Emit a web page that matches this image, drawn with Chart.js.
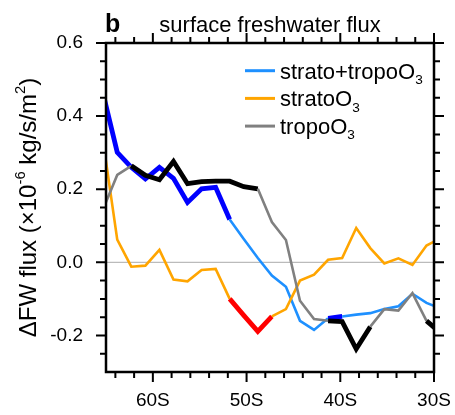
<!DOCTYPE html>
<html>
<head>
<meta charset="utf-8">
<script src="https://cdn.jsdelivr.net/npm/chart.js@4.4.0/dist/chart.umd.min.js"></script>
<style>
  html, body { margin: 0; padding: 0; background: #fff; }
</style>
</head>
<body>
<canvas id="fw-chart" width="455" height="415"></canvas>
<script>
// latitude of each grid point (negative = south)
let lats = [-65.3, -63.8, -62.3, -60.8, -59.3, -57.8, -56.3, -54.8, -53.3, -51.8, -50.3, -48.8, -47.3,
  -45.8, -44.3, -42.8, -41.3, -39.8, -38.3, -36.8, -35.3, -33.8, -32.3, -30.8, -29.3];

let stratoTropo = [0.46, 0.301, 0.26, 0.228, 0.26, 0.23, 0.164, 0.201, 0.205, 0.117, 0.064, 0.012, -0.036,
  -0.067, -0.16, -0.185, -0.153, -0.148, -0.143, -0.139, -0.128, -0.12, -0.086, -0.111, -0.126];
let strato = [0.33, 0.062, -0.012, -0.009, 0.034, -0.047, -0.052, -0.021, -0.018, -0.1, -0.145, -0.189, -0.148,
  -0.128, -0.05, -0.034, 0.007, 0.012, 0.094, 0.039, -0.003, 0.011, -0.007, 0.046, 0.066];
let tropo = [0.146, 0.239, 0.264, 0.238, 0.226, 0.276, 0.215, 0.221, 0.222, 0.222, 0.207, 0.201, 0.11,
  0.061, -0.105, -0.155, -0.16, -0.162, -0.237, -0.176, -0.128, -0.132, -0.084, -0.16, -0.193];

// index ranges drawn as thick (significant) segments
let stratoTropoSig = [[0, 9], [16, 17]];
let stratoSig = [[9, 12]];
let tropoSig = [[2, 11], [16, 19], [23, 24]];

let xTicks = [-60, -50, -40, -30];
let yTicks = [-0.2, 0, 0.2, 0.4, 0.6];

let FONT = "'Liberation Sans', Arial, sans-serif";
Chart.defaults.font.family = FONT;
Chart.defaults.color = "#000";

function inRanges(ranges, ctx) {
  return ranges.some(([a, b]) => ctx.p0DataIndex >= a && ctx.p1DataIndex <= b);
}

function makeSet(values, sig, light, dark) {
  return {
    data: values.map((v, i) => ({ x: lats[i], y: v })),
    borderColor: light,
    borderWidth: 2.6,
    pointRadius: 0,
    clip: 0,
    segment: {
      borderColor: (ctx) => (inRanges(sig, ctx) ? dark : light),
      borderWidth: (ctx) => (inRanges(sig, ctx) ? 4.8 : 2.6),
    },
  };
}

// text with sub/superscripts: parts = [[text, "n"|"sup"|"sub"], ...]
function drawRich(ctx, parts, x, y, size, align) {
  let widths = parts.map(([t, m]) => {
    ctx.font = (m === "n" ? size : size * 0.62) + "px " + FONT;
    return ctx.measureText(t).width;
  });
  let total = widths.reduce((a, b) => a + b, 0);
  let cx = align === "center" ? x - total / 2 : x;
  ctx.textAlign = "left";
  ctx.textBaseline = "alphabetic";
  parts.forEach(([t, m], i) => {
    ctx.font = (m === "n" ? size : size * 0.62) + "px " + FONT;
    let dy = m === "sup" ? -size * 0.42 : m === "sub" ? size * 0.25 : 0;
    ctx.fillText(t, cx, y + dy);
    cx += widths[i];
  });
}

let legendItems = [
  { color: "#1e90ff", parts: [["strato+tropoO", "n"], ["3", "sub"]] },
  { color: "#ffa500", parts: [["stratoO", "n"], ["3", "sub"]] },
  { color: "#808080", parts: [["tropoO", "n"], ["3", "sub"]] },
];

function noPadding(s) {
  s.paddingLeft = 0;
  s.paddingRight = 0;
  s.paddingTop = 0;
  s.paddingBottom = 0;
}

let framePlugin = {
  id: "frame",
  beforeDatasetsDraw(chart) {
    let { ctx, chartArea: a, scales } = chart;
    let y0 = scales.y.getPixelForValue(0);
    ctx.save();
    ctx.strokeStyle = "#bbbbbb";
    ctx.lineWidth = 1.2;
    ctx.beginPath();
    ctx.moveTo(a.left, y0);
    ctx.lineTo(a.right, y0);
    ctx.stroke();
    ctx.restore();
  },
  afterDraw(chart) {
    let { ctx, chartArea: a, scales } = chart;
    ctx.save();
    ctx.strokeStyle = "#000";
    ctx.fillStyle = "#000";

    // ticks on all four sides, pointing outwards
    ctx.lineWidth = 2;
    ctx.beginPath();
    for (let v = -64; v <= -30; v += 2) {
      let len = xTicks.includes(v) ? 10 : 6;
      let px = scales.x.getPixelForValue(v);
      ctx.moveTo(px, a.bottom);
      ctx.lineTo(px, a.bottom + len);
      ctx.moveTo(px, a.top);
      ctx.lineTo(px, a.top - len);
    }
    for (let k = -5; k <= 12; k++) {
      let v = k * 0.05;
      let major = k % 4 === 0;
      let len = major ? 10 : 6;
      let py = scales.y.getPixelForValue(v);
      ctx.moveTo(a.left, py);
      ctx.lineTo(a.left - len, py);
      ctx.moveTo(a.right, py);
      ctx.lineTo(a.right + len, py);
    }
    ctx.stroke();

    ctx.lineWidth = 2.5;
    ctx.strokeRect(a.left, a.top, a.right - a.left, a.bottom - a.top);

    // panel letter and title
    ctx.font = "bold 25px " + FONT;
    ctx.textAlign = "left";
    ctx.textBaseline = "alphabetic";
    ctx.fillText("b", a.left - 1, 31.5);
    ctx.font = "22px " + FONT;
    ctx.textAlign = "center";
    ctx.fillText("surface freshwater flux", (a.left + a.right) / 2, 31.5);

    // legend
    legendItems.forEach((item, i) => {
      let ly = 70.7 + i * 27.7;
      ctx.strokeStyle = item.color;
      ctx.lineWidth = 3;
      ctx.beginPath();
      ctx.moveTo(245, ly);
      ctx.lineTo(275, ly);
      ctx.stroke();
      ctx.fillStyle = "#000";
      drawRich(ctx, item.parts, 280, ly + 7.8, 22, "left");
    });

    // y axis title
    ctx.translate(27, (a.top + a.bottom) / 2);
    ctx.rotate(-Math.PI / 2);
    drawRich(ctx, [["\u0394FW flux (\u00d710", "n"], ["-6", "sup"], [" kg/s/m", "n"], ["2", "sup"], [")", "n"]],
      0, 8.5, 24, "center");
    ctx.restore();
  },
};

new Chart(document.getElementById("fw-chart"), {
  type: "line",
  data: {
    datasets: [
      makeSet(tropo, tropoSig, "#808080", "#000000"),
      makeSet(strato, stratoSig, "#ffa500", "#ff0000"),
      makeSet(stratoTropo, stratoTropoSig, "#1e90ff", "#0000ff"),
    ],
  },
  options: {
    responsive: false,
    animation: false,
    layout: { padding: { top: 43, right: 21, left: 0, bottom: 0 } },
    plugins: { legend: { display: false }, tooltip: { enabled: false } },
    scales: {
      x: {
        type: "linear",
        min: -65,
        max: -30,
        afterBuildTicks: (s) => { s.ticks = xTicks.map((v) => ({ value: v })); },
        afterFit: (s) => { s.height = 43; noPadding(s); },
        ticks: {
          callback: (v) => Math.abs(v) + "S",
          font: { size: 19 },
          padding: 17,
          maxRotation: 0,
          autoSkip: false,
        },
        grid: { display: false, drawTicks: false },
        border: { display: false },
      },
      y: {
        min: -0.3,
        max: 0.6,
        afterBuildTicks: (s) => { s.ticks = yTicks.map((v) => ({ value: v })); },
        afterFit: (s) => { s.width = 106; noPadding(s); },
        ticks: {
          callback: (v) => v.toFixed(1),
          font: { size: 19 },
          padding: 23,
        },
        grid: { display: false, drawTicks: false },
        border: { display: false },
      },
    },
  },
  plugins: [framePlugin],
});
</script>
</body>
</html>
